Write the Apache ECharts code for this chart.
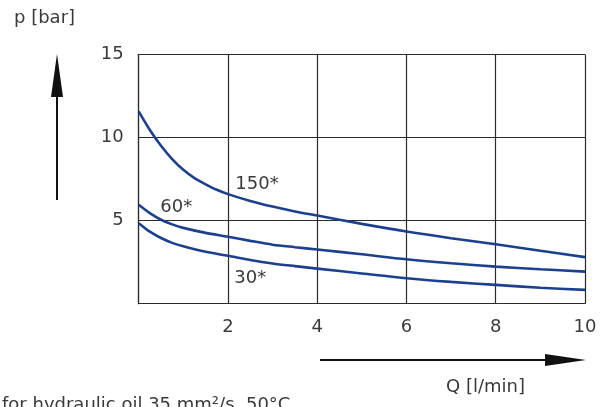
<!DOCTYPE html>
<html><head><meta charset="utf-8">
<script src="https://cdn.jsdelivr.net/npm/echarts@6/dist/echarts.min.js"></script>
<style>html,body{margin:0;padding:0;background:#fff}#c{width:603px;height:407px}</style>
</head><body><div id="c"></div>
<script>
const xTicks = [0, 2, 4, 6, 8, 10];
const yTicks = [0, 5, 10, 15];
const curve150 = [[0,11.57],[0.25,10.45],[0.5,9.5],[0.75,8.7],[1,8.05],[1.25,7.55],[1.5,7.18],[1.75,6.85],[2,6.59],[2.5,6.18],[3,5.84],[3.5,5.55],[4,5.3],[5,4.8],[6,4.34],[7,3.94],[8,3.58],[9,3.18],[10,2.8]];
const curve60 = [[0,5.95],[0.25,5.45],[0.5,5.05],[0.75,4.77],[1,4.56],[1.5,4.26],[2,4.03],[2.5,3.78],[3,3.55],[3.5,3.4],[4,3.26],[5,2.97],[6,2.67],[7,2.43],[8,2.23],[9,2.07],[10,1.93]];
const curve30 = [[0,4.84],[0.25,4.33],[0.5,3.95],[0.75,3.66],[1,3.45],[1.5,3.12],[2,2.88],[2.5,2.63],[3,2.42],[3.5,2.26],[4,2.11],[5,1.82],[6,1.53],[7,1.31],[8,1.13],[9,0.96],[10,0.83]];
const curveLabels = [
  {name:'150*', coord:[2.65,7.2]},
  {name:'60*', coord:[0.84,5.8]},
  {name:'30*', coord:[2.5,1.5]}
];
const yName = 'p [bar]';
const xName = 'Q [l/min]';
const footnote = 'for hydraulic oil 35 mm²/s, 50°C';

const FONT = 'DejaVu Sans';
const TXT = '#3a3a3a';
const BLUE = '#1c3f8e';
const GRID = '#2b2b2b';

const chart = echarts.init(document.getElementById('c'));
function lineSeries(d){
  return {type:'line', data:d, smooth:0.3, symbol:'none', lineStyle:{color:BLUE,width:2.6}, z:3, silent:true};
}
const s150 = lineSeries(curve150);
s150.markPoint = {
  symbol:'rect', symbolSize:1, itemStyle:{color:'rgba(0,0,0,0)'},
  label:{show:true, position:'inside', formatter:p=>p.name, color:TXT, fontFamily:FONT, fontSize:18},
  data: curveLabels.map(l=>({name:l.name, coord:l.coord}))
};
chart.setOption({
  animation:false,
  grid:{left:138.7, right:18, top:54.3, bottom:103.3},
  xAxis:{type:'value', min:xTicks[0], max:xTicks[xTicks.length-1], interval:2,
    axisLine:{show:true, lineStyle:{color:GRID,width:1.2}}, axisTick:{show:false},
    splitLine:{show:true, lineStyle:{color:GRID,width:1.2}},
    axisLabel:{margin:15, color:TXT, fontFamily:FONT, fontSize:18, formatter:v=>v===0?'':String(v)}},
  yAxis:{type:'value', min:yTicks[0], max:yTicks[yTicks.length-1], interval:5,
    axisLine:{show:true, lineStyle:{color:GRID,width:1.2}}, axisTick:{show:false},
    splitLine:{show:true, lineStyle:{color:GRID,width:1.2}},
    axisLabel:{margin:15, color:TXT, fontFamily:FONT, fontSize:18, formatter:v=>v===0?'':String(v)}},
  series:[s150, lineSeries(curve60), lineSeries(curve30)],
  graphic:[
    {type:'text', left:14, top:9, style:{text:yName, fill:TXT, font:'18px "DejaVu Sans"'}},
    {type:'line', shape:{x1:57,y1:200,x2:57,y2:90}, style:{stroke:'#111',lineWidth:2}},
    {type:'polygon', shape:{points:[[57,54],[51,97],[63,97]]}, style:{fill:'#111'}},
    {type:'line', shape:{x1:320,y1:360,x2:550,y2:360}, style:{stroke:'#111',lineWidth:2}},
    {type:'polygon', shape:{points:[[586,360],[545,354],[545,366]]}, style:{fill:'#111'}},
    {type:'text', left:446, top:378, style:{text:xName, fill:TXT, font:'18px "DejaVu Sans"'}},
    {type:'text', left:2, top:396, style:{text:footnote, fill:TXT, font:'18px "DejaVu Sans"'}}
  ]
});
</script></body></html>
